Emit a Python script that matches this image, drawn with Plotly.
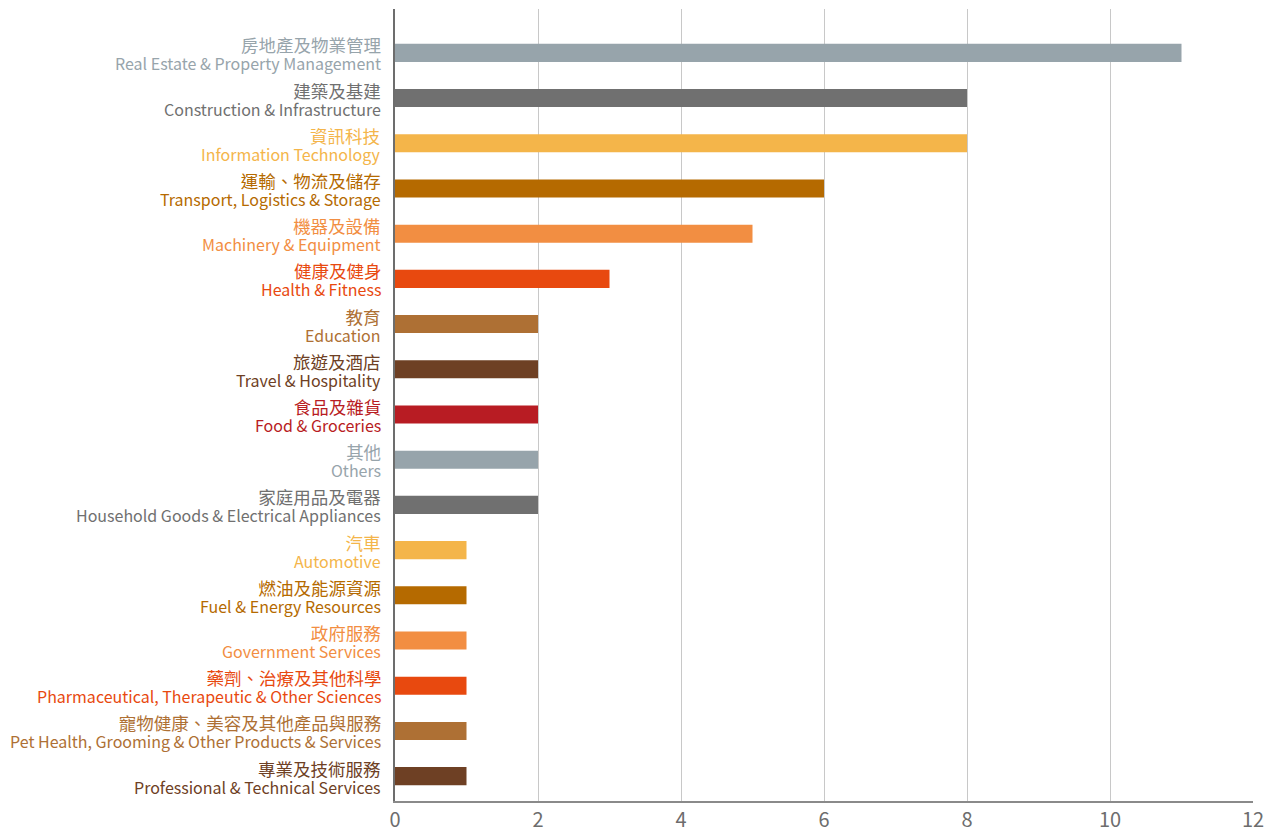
import plotly.graph_objects as go

labels_zh = ["房地產及物業管理", "建築及基建", "資訊科技", "運輸、物流及儲存", "機器及設備",
             "健康及健身", "教育", "旅遊及酒店", "食品及雜貨", "其他", "家庭用品及電器",
             "汽車", "燃油及能源資源", "政府服務", "藥劑、治療及其他科學",
             "寵物健康、美容及其他產品與服務", "專業及技術服務"]
labels_en = ["Real Estate & Property Management", "Construction & Infrastructure",
             "Information Technology", "Transport, Logistics & Storage",
             "Machinery & Equipment", "Health & Fitness", "Education",
             "Travel & Hospitality", "Food & Groceries", "Others",
             "Household Goods & Electrical Appliances", "Automotive",
             "Fuel & Energy Resources", "Government Services",
             "Pharmaceutical, Therapeutic & Other Sciences",
             "Pet Health, Grooming & Other Products & Services",
             "Professional & Technical Services"]
values = [11, 8, 8, 6, 5, 3, 2, 2, 2, 2, 2, 1, 1, 1, 1, 1, 1]
colors = ["#97a4ab", "#707070", "#f4b54a", "#b56a00", "#f28e42", "#e8490f", "#ae7034",
          "#6e4024", "#b81c23", "#97a4ab", "#707070", "#f4b54a", "#b56a00", "#f28e42",
          "#e8490f", "#ae7034", "#6e4024"]
x_ticks = [0, 2, 4, 6, 8, 10, 12]

FONT = "Noto Sans CJK TC, Noto Sans, sans-serif"

fig = go.Figure()
fig.add_trace(go.Bar(
    x=values, y=labels_en, orientation="h",
    marker=dict(color=colors, line=dict(width=0)),
    width=0.4, hoverinfo="x+y",
))

annotations = []
for zh, en, c in zip(labels_zh, labels_en, colors):
    txt = (f"<span style='font-size:17.5px'>{zh}</span><br>"
           f"<span style='font-size:16px'>{en}</span>")
    annotations.append(dict(x=0, xref="paper", y=en, yref="y", text=txt, showarrow=False,
                            xanchor="right", yanchor="middle", align="right",
                            xshift=-13, yshift=-1, borderpad=0,
                            font=dict(family=FONT, size=14, color=c)))

fig.update_layout(
    width=1267, height=826,
    margin=dict(l=387, r=22, t=1, b=31),
    paper_bgcolor="white", plot_bgcolor="white",
    showlegend=False,
    annotations=annotations,
)
fig.update_xaxes(
    range=[0, 12], tickvals=x_ticks, ticktext=[str(v) for v in x_ticks],
    showgrid=True, gridcolor="#c8c8c8", gridwidth=1,
    showline=True, linecolor="#8a8a8a", linewidth=2,
    zeroline=False, ticks="",
    tickfont=dict(family=FONT, size=20, color="#6d6d6d"),
)
fig.update_yaxes(
    type="category", categoryorder="array", categoryarray=labels_en,
    range=[16.55, -0.97], showticklabels=False,
    showgrid=False, showline=True, linecolor="#6d6d6d", linewidth=2,
    zeroline=False, ticks="",
)

fig.write_html("out.html")
